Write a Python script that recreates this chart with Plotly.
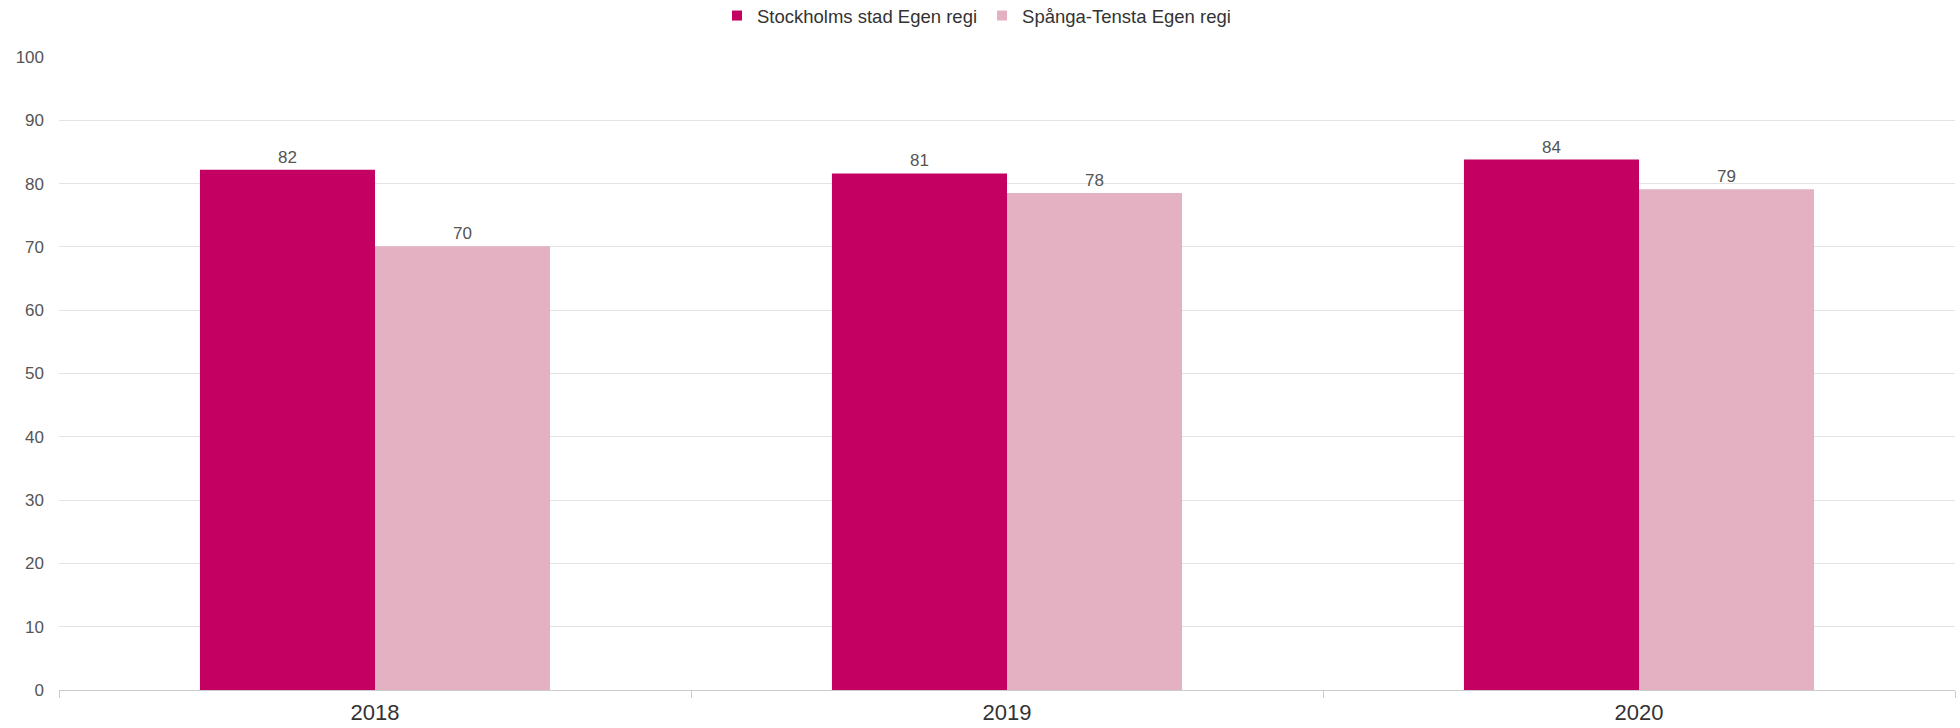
import plotly.graph_objects as go

years = ["2018", "2019", "2020"]
stockholm = [82.2, 81.6, 83.8]
spanga = [70.1, 78.5, 79.1]
stockholm_labels = ["82", "81", "84"]
spanga_labels = ["70", "78", "79"]
y_ticks = [0, 10, 20, 30, 40, 50, 60, 70, 80, 90, 100]
series_names = ["Stockholms stad Egen regi", "Spånga-Tensta Egen regi"]
colors = ["#C40063", "#E3B1C1"]

fig = go.Figure()
for vals, labels, name, col in [(stockholm, stockholm_labels, series_names[0], colors[0]),
                                (spanga, spanga_labels, series_names[1], colors[1])]:
    fig.add_trace(go.Bar(
        x=years, y=vals, name=name, showlegend=False, legendgroup=name,
        marker=dict(color=col, line=dict(width=0)),
        text=labels, textposition="outside",
        textfont=dict(size=17, color="#555555", family="Liberation Sans"),
        cliponaxis=False,
    ))
for name, col in zip(series_names, colors):
    fig.add_trace(go.Scatter(
        x=[None], y=[None], mode="markers", name=name, legendgroup=name,
        marker=dict(symbol="square", size=10, color=col),
    ))

fig.update_layout(
    width=1960, height=728,
    margin=dict(l=59, r=5, t=57, b=38, autoexpand=False),
    paper_bgcolor="white", plot_bgcolor="white",
    barmode="group", bargap=0.446, bargroupgap=0,
    font=dict(family="Liberation Sans", color="#333333"),
    legend=dict(
        orientation="h", x=0.4839, xanchor="center",
        yref="container", y=0.978, yanchor="middle",
        font=dict(size=18.5, color="#333333", family="Liberation Sans"),
        itemwidth=30, traceorder="normal",
    ),
    xaxis=dict(
        showgrid=False, showline=True, linecolor="#cccccc", linewidth=1,
        ticks="outside", tickson="boundaries", ticklen=7, tickcolor="#cccccc",
        tickfont=dict(size=22, color="#333333"),
        ticklabelstandoff=3,
    ),
    yaxis=dict(
        range=[0, 100], tickvals=y_ticks,
        showgrid=True, gridcolor="#e3e3e3", gridwidth=1,
        zeroline=False, showline=False,
        tickfont=dict(size=17, color="#555555"),
        ticklabelstandoff=14,
    ),
)

fig.write_html("out.html", config={"displayModeBar": False},
               post_script="document.body.style.margin='0';")
